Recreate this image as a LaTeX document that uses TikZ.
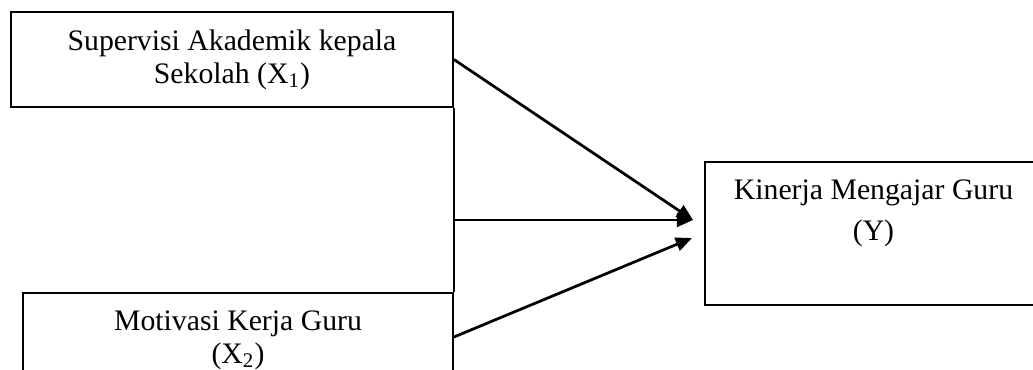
\documentclass[tikz,border=0pt]{standalone}
\usepackage{fontspec}
\setmainfont{Liberation Serif}
\usetikzlibrary{arrows.meta}

\tikzset{
  box/.style={draw, line width=0.75pt, rectangle, inner sep=0pt},
  txt/.style={inner sep=0pt, anchor=base, font=\fontsize{11.9}{14}\selectfont},
  link/.style={line width=1.1pt, -{Triangle[length=6.5pt,width=5.5pt]}},
  rail/.style={line width=0.75pt}
}

\begin{document}
\begin{tikzpicture}[x=0.4pt, y=-0.4pt]
  \useasboundingbox (0,0) rectangle (1033,369);
  \clip (0,0) rectangle (1033,369);

  % independent variables
  \node[box, minimum width={442*0.4pt}, minimum height={95*0.4pt}] (x1) at (232,59.5) {};
  \node[txt] (x1a) at (232,50) {Supervisi Akademik kepala};
  \node[txt] (x1b) at (232,83) {Sekolah (X\textsubscript{1})};

  \node[box, minimum width={430*0.4pt}, minimum height={88*0.4pt}] (x2) at (238,337) {};
  \node[txt] (x2a) at (238,330) {Motivasi Kerja Guru};
  \node[txt] (x2b) at (238,363) {(X\textsubscript{2})};

  % dependent variable
  \node[box, minimum width={337*0.4pt}, minimum height={143*0.4pt}] (y) at (873.5,233.5) {};
  \node[txt] (ya) at (873.5,199) {Kinerja Mengajar Guru};
  \node[txt] (yb) at (873.5,240) {(Y)};

  % joint rail linking both predictors
  \draw[rail] (x1.south east) -- (x2.north east);
  \coordinate (joint) at (453,220);

  % arrow heads stop short of the dependent box
  \coordinate (tipA) at (693,220);
  \coordinate (tipB) at (692,238);

  \draw[link] (x1.east) -- (tipA);
  \draw[link] (joint) -- (tipA);
  \draw[link] (x2.east) -- (tipB);
\end{tikzpicture}
\end{document}
